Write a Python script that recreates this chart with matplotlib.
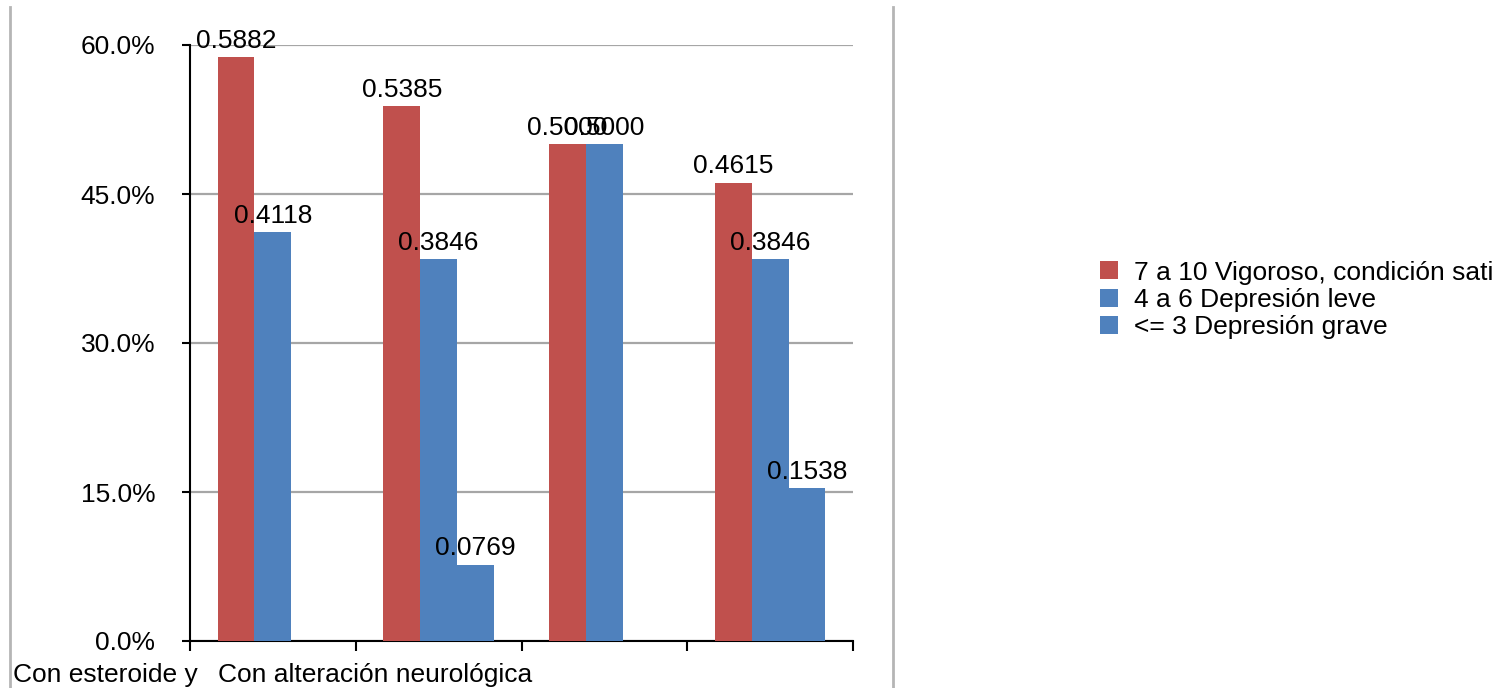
import numpy as np
import matplotlib.pyplot as plt
from matplotlib.lines import Line2D
from matplotlib.ticker import PercentFormatter

plt.rcParams['font.family'] = ['Liberation Sans', 'DejaVu Sans']

#%% dados
categorias = ['Con esteroide y', 'Con alteración neurológica', '', '']
series = ['7 a 10 Vigoroso, condición sati', '4 a 6 Depresión leve', '<= 3 Depresión grave']
vigoroso = [0.5882, 0.5385, 0.5000, 0.4615]
leve = [0.4118, 0.3846, 0.5000, 0.3846]
grave = [0.0, 0.0769, 0.0, 0.1538]
cores = ['#C0504D', '#4F81BD', '#4F81BD']

#%% figura
fig = plt.figure(figsize=(14.96, 6.88), dpi=100)
ax = fig.add_axes([190/1496, 1 - 641/688, (853-190)/1496, (641-45)/688])

x = np.arange(len(categorias)) + 0.5
largura = 0.222
fs = 19

for i, (vals, cor, nome) in enumerate(zip([vigoroso, leve, grave], cores, series)):
    pos = x + (i - 1) * largura
    ax.bar(pos, vals, largura, color=cor, label=nome, zorder=3)
    for p, v in zip(pos, vals):
        if v > 0:
            ax.annotate(f'{v:.4f}', (p, v), xytext=(0, 3), textcoords='offset points',
                        ha='center', va='bottom', fontsize=fs, zorder=4)

ax.set_xlim(0, len(categorias))
ax.set_ylim(0, 0.6)
ax.set_yticks([0, 0.15, 0.30, 0.45, 0.60])
ax.yaxis.set_major_formatter(PercentFormatter(1.0, decimals=1))
ax.set_xticks(np.arange(len(categorias) + 1))
ax.set_xticklabels([])
ax.grid(axis='y', color='#a6a6a6', linewidth=1.6, zorder=0)
ax.spines['top'].set_visible(False)
ax.spines['right'].set_visible(False)
ax.spines['left'].set_linewidth(1.5)
ax.spines['bottom'].set_linewidth(1.5)
ax.tick_params(axis='y', length=6, width=1.5, pad=19, labelsize=fs)
ax.tick_params(axis='x', length=7, width=1.5)

# rotulos das categorias (cortados como no original)
fig.text(13/1496, 1 - 675/688, categorias[0], fontsize=fs, va='center', ha='left')
fig.text(218/1496, 1 - 675/688, categorias[1], fontsize=fs, va='center', ha='left')

# linhas de borda
fig.add_artist(Line2D([10/1496, 10/1496], [0, 1 - 7/688], color='#b5b5b5', linewidth=2))
fig.add_artist(Line2D([893/1496, 893/1496], [0, 1 - 7/688], color='#b5b5b5', linewidth=2))

fig.legend(loc='center left', bbox_to_anchor=(1089/1496, 1 - 300/688), frameon=False,
           fontsize=fs, handlelength=0.68, handleheight=0.68, handletextpad=0.62,
           labelspacing=0.13, borderaxespad=0)

fig.savefig('out.png', dpi=100)
